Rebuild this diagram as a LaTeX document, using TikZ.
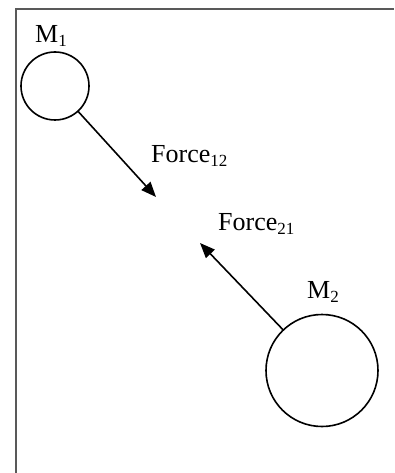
\documentclass[tikz,border=0pt]{standalone}
\usepackage{fontspec}
\setmainfont{Liberation Serif}
\usetikzlibrary{arrows.meta}
\newcommand{\lowsub}[1]{\raisebox{-4pt}{\fontsize{17}{17}\selectfont #1}}
\tikzset{
  massball/.style  = {circle,draw,line width=1.6pt,inner sep=0pt},
  forcearr/.style  = {-{Triangle[length=15pt,width=12pt]},line width=1.6pt,shorten <=-0.8pt},
  framelne/.style  = {line width=1.4pt,black!65},
  lbl/.style       = {anchor=base west,inner sep=0pt,font=\fontsize{26}{30}\selectfont}
}

\begin{document}
\begin{tikzpicture}[x=1pt,y=-1pt]
  \useasboundingbox (0,0) rectangle (395,473);
  \draw[framelne] (16,473) -- (16,9) -- (394,9);
  \node[massball,minimum size=68pt]  (m1) at (55,86) {};
  \node[massball,minimum size=112pt] (m2) at (322,370.5) {};
  \coordinate (tip12) at (156,197);
  \coordinate (tip21) at (200,243);
  \draw[forcearr] (m1) -- (tip12);
  \draw[forcearr] (m2) -- (tip21);
  \node[lbl] (labm1) at (35,43)   {M\lowsub{1}};
  \node[lbl] (labm2) at (307,298) {M\lowsub{2}};
  \node[lbl] (labf12) at (151,163) {Force\lowsub{12}};
  \node[lbl] (labf21) at (218,230) {Force\lowsub{21}};
\end{tikzpicture}
\end{document}
